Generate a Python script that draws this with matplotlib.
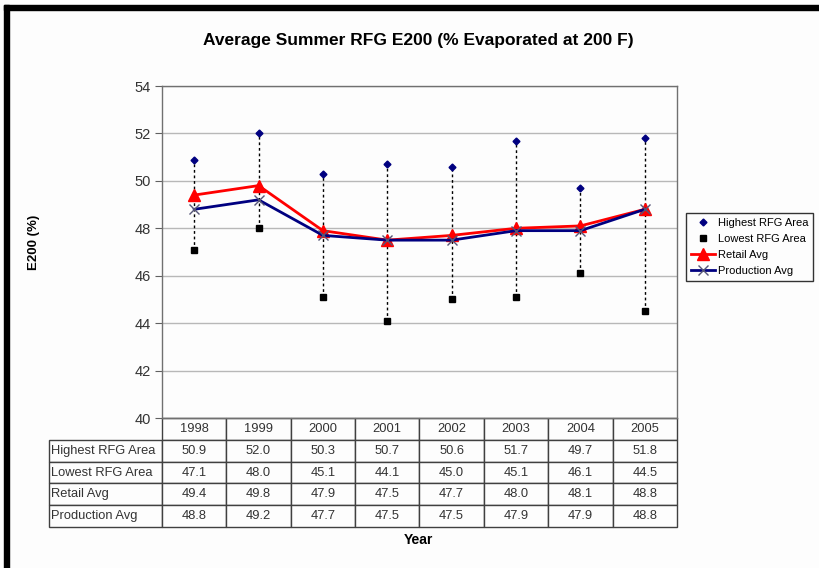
import numpy as np
import matplotlib
matplotlib.use("Agg")
import matplotlib.pyplot as plt
from matplotlib.table import Table
from matplotlib.patches import Rectangle

plt.rcParams['font.family'] = ['Liberation Sans', 'DejaVu Sans']

years = ["1998", "1999", "2000", "2001", "2002", "2003", "2004", "2005"]
highest = [50.9, 52.0, 50.3, 50.7, 50.6, 51.7, 49.7, 51.8]
lowest = [47.1, 48.0, 45.1, 44.1, 45.0, 45.1, 46.1, 44.5]
retail = [49.4, 49.8, 47.9, 47.5, 47.7, 48.0, 48.1, 48.8]
production = [48.8, 49.2, 47.7, 47.5, 47.5, 47.9, 47.9, 48.8]
row_labels = ["Highest RFG Area", "Lowest RFG Area", "Retail Avg", "Production Avg"]
yticks = [40, 42, 44, 46, 48, 50, 52, 54]

W, H = 820, 568
fig = plt.figure(figsize=(W / 100, H / 100), dpi=100)
fig.patch.set_facecolor('#fdfdfd')

# plot area in pixels
L, R, T, B = 162, 677, 86, 418
ax = fig.add_axes([L / W, 1 - B / H, (R - L) / W, (B - T) / H])
ax.set_facecolor('#fdfdfd')

x = np.arange(len(years))
ax.vlines(x, lowest, highest, colors='black', linestyles=(0, (2, 2)), linewidth=1, zorder=2)
ax.plot(x, highest, linestyle='none', marker='D', markersize=3.5, color='#000080',
        label='Highest RFG Area', zorder=4)
ax.plot(x, lowest, linestyle='none', marker='s', markersize=5, color='black',
        label='Lowest RFG Area', zorder=4)
ax.plot(x, retail, color='#ff0000', linewidth=2, marker='^', markersize=9,
        label='Retail Avg', zorder=3)
ax.plot(x, production, color='#000080', linewidth=2, marker='x', markersize=7,
        markeredgecolor='#555577', markeredgewidth=1, label='Production Avg', zorder=3)

ax.set_xlim(-0.5, len(years) - 0.5)
ax.set_ylim(40, 54)
ax.set_yticks(yticks)
ax.set_xticks([])
ax.tick_params(axis='y', direction='out', length=5, color='#606060', labelsize=10.5,
               labelcolor='#333333', pad=3)
ax.yaxis.grid(True, color='#b8b8b8', linewidth=1)
ax.set_axisbelow(True)
for s in ax.spines.values():
    s.set_color('#707070')
    s.set_linewidth(1)

# data table below the plot (bbox covers the year columns, row labels hang to the left)
tL, tB = 49, 527
lab_w = (L - tL) / (R - L)
col_w = 1.0 / len(years)
th = (tB - B) / (B - T)
tbl = Table(ax, bbox=[0, -th, 1, th])
rh = 1.0
for j, yr in enumerate(years):
    tbl.add_cell(0, j, width=col_w, height=rh, text=yr, loc='center')
series = [highest, lowest, retail, production]
for i, (lab, vals) in enumerate(zip(row_labels, series)):
    c = tbl.add_cell(i + 1, -1, width=lab_w, height=rh, text=lab, loc='left')
    c.PAD = 0.02
    for j, v in enumerate(vals):
        tbl.add_cell(i + 1, j, width=col_w, height=rh, text=f"{v:.1f}", loc='center')
tbl.auto_set_font_size(False)
tbl.set_fontsize(9.3)
for cell in tbl.get_celld().values():
    cell.set_edgecolor('#404040')
    cell.set_linewidth(1)
    cell.set_facecolor('#fdfdfd')
    cell.get_text().set_color('#333333')
ax.add_table(tbl)

fig.text(418 / W, 1 - 40 / H, "Average Summer RFG E200 (% Evaporated at 200 F)",
         ha='center', va='center', fontsize=12.5, fontweight='bold')
fig.text(418 / W, 1 - 540 / H, "Year", ha='center', va='center', fontsize=10, fontweight='bold')
fig.text(34 / W, 1 - 242 / H, "E200 (%)", ha='center', va='center', rotation=90,
         fontsize=9.5, fontweight='bold')

leg = fig.legend(loc='upper left', bbox_to_anchor=(686 / W, 1 - 213 / H), borderaxespad=0,
                 fontsize=8, frameon=True, fancybox=False, edgecolor='black',
                 handlelength=2.2, handletextpad=0.2, labelspacing=0.55, borderpad=0.45)
leg.get_frame().set_linewidth(1)
leg.get_frame().set_facecolor('#fdfdfd')

# black border lines at top and left
fig.patches.append(Rectangle((4 / W, 0), 5 / W, 1 - 5 / H, transform=fig.transFigure,
                             color='black', zorder=10))
fig.patches.append(Rectangle((4 / W, 1 - 10 / H), 1 - 4 / W, 5 / H, transform=fig.transFigure,
                             color='black', zorder=10))

fig.savefig("out.png", dpi=100, facecolor=fig.get_facecolor())
